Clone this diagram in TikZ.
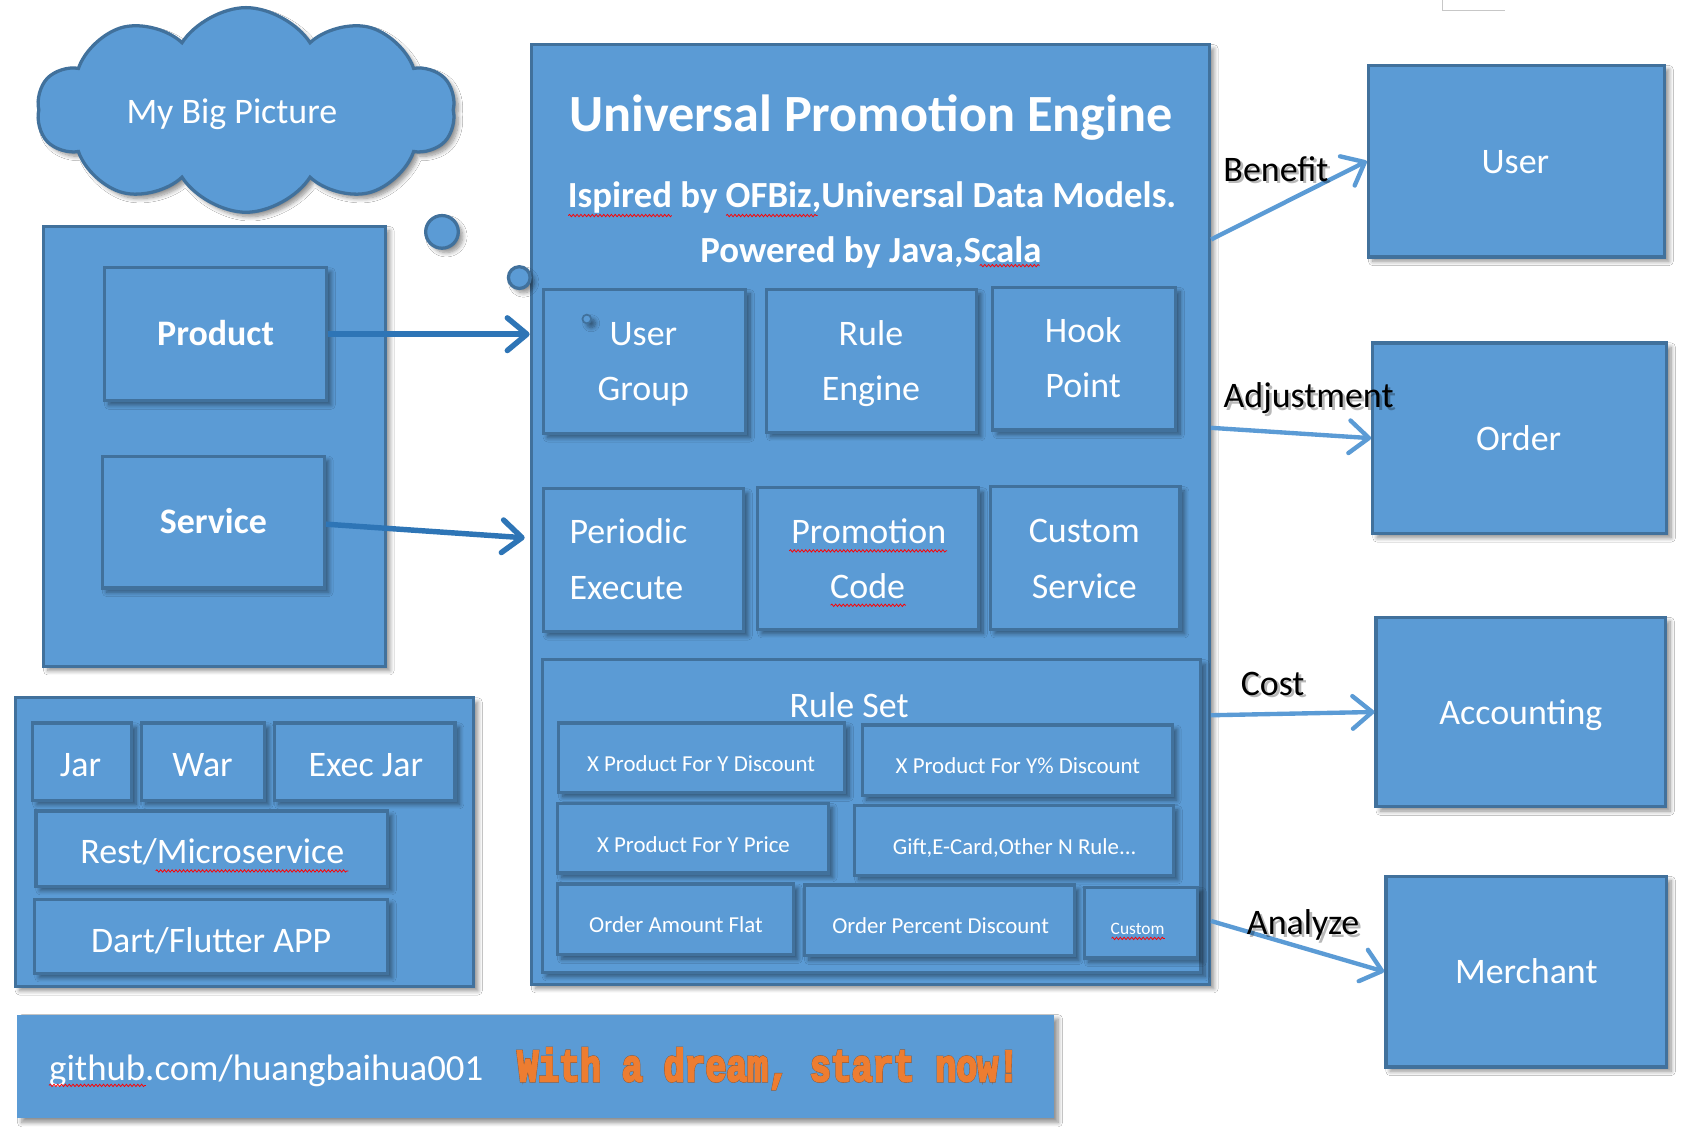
\documentclass[tikz,border=0pt]{standalone}
\usepackage{fontspec}
\setmainfont{Carlito}
\newfontfamily\dreamfont{Liberation Mono}[UprightFont={* Bold},UprightFeatures={FakeBold=4.5}]
\newfontfamily\dreamfontedge{Liberation Mono}[UprightFont={* Bold},UprightFeatures={FakeBold=6.5}]
\usetikzlibrary{shapes.symbols,arrows.meta,shadows.blur,decorations.pathmorphing,calc}
\definecolor{fillc}{HTML}{5B9BD5}
\definecolor{bordc}{HTML}{41719C}
\definecolor{arrc}{HTML}{2E75B6}
\definecolor{orng}{HTML}{ED7D31}
\definecolor{orngdark}{HTML}{8A5A3C}
\tikzset{
  shade box/.style={blur shadow={shadow xshift=4pt,shadow yshift=-4pt,shadow blur radius=4pt,shadow blur steps=8,shadow opacity=45}},
  panel/.style={draw=bordc,fill=fillc,line width=3pt,inner sep=0pt,shade box},
  cloudstyle/.style={cloud,cloud puffs=10,cloud puff arc=115,cloud ignores aspect,draw=bordc,fill=fillc,line width=3pt,minimum width=384pt,minimum height=188pt,inner sep=0pt,shade box},
  lbl/.style={inner sep=0pt,text=white,font=\fontsize{33}{40}\selectfont,text height=21pt,text depth=0pt},
  blbl/.style={lbl,font=\fontsize{33}{40}\selectfont\bfseries},
  sublbl/.style={lbl,font=\fontsize{33.8}{40}\selectfont\bfseries},
  tlbl/.style={lbl,font=\fontsize{48}{56}\selectfont\bfseries,text height=31pt},
  rlbl/.style={lbl,font=\fontsize{21}{26}\selectfont,text height=13.5pt},
  slbl/.style={lbl,font=\fontsize{16}{20}\selectfont,text height=10pt},
  elbl/.style={lbl,text=black},
  elblsh/.style={lbl,text=black,opacity=0.28},
  dreamlbl/.style={inner sep=0pt,anchor=west,text height=24pt,text depth=0pt},
  larrow/.style={arrc,line width=5pt,-{Straight Barb[length=18pt,width=30pt,round]}},
  rarrow/.style={fillc,line width=4pt,-{Straight Barb[length=18pt,width=30pt,round]}},
  squig/.style={red,line width=0.7pt,decorate,decoration={snake,amplitude=1.1pt,segment length=3.5pt}}
}
\newcommand\bluebox[6][]{\node[panel,#1,minimum width={(#5)-(#3)},minimum height={(#6)-(#4)}] (#2) at ({((#3)+(#5))/2},{((#4)+(#6))/2}) {};}
\begin{document}
\begin{tikzpicture}[x=1pt,y=-1pt]
\useasboundingbox (0,0) rectangle (1568,1046);
\fill[white] (0,0) rectangle (1568,1046);
\draw[black!22,line width=1pt] (1325,0) -- (1325,10) -- (1382,10);

% thought cloud
\node[cloudstyle] (cloud) at (226,101) {};
\node[lbl] (tcloud) at (213,103) {My Big Picture};
\node[panel,circle,minimum size=30pt] (bub1) at (406,213) {};

% left panel
\bluebox{left}{40}{208}{354}{612}
\bluebox{product}{96}{246}{300}{368}
\bluebox{service}{94}{419}{298}{540}
\node[blbl] (tproduct) at (198,307) {Product};
\node[blbl] (tservice) at (196,480) {Service};

% engine
\bluebox{engine}{488}{41}{1111}{904}
\node[panel,circle,minimum size=20pt] (bub2) at (477,255) {};
\node[tlbl] (ttitle) at (800,105) {Universal Promotion Engine};
\node[sublbl] (tsub1) at (801,180) {Ispired by OFBiz,Universal Data Models.};
\node[sublbl] (tsub2) at (800,231) {Powered by Java,Scala};

\bluebox{ug}{499}{266}{685}{398}
\bluebox{re}{704}{266}{897}{397}
\bluebox{hp}{912}{264}{1080}{395}
\node[panel,circle,line width=1.6pt,minimum size=8pt] (dot) at (539,293) {};
\node[lbl] (tug1) at (591,307) {User};
\node[lbl] (tug2) at (591,357) {Group};
\node[lbl] (tre1) at (800,307) {Rule};
\node[lbl] (tre2) at (800,357) {Engine};
\node[lbl] (thp1) at (995,304) {Hook};
\node[lbl] (thp2) at (995,355) {Point};

\bluebox{pe}{499}{449}{683}{580}
\bluebox{pc}{696}{448}{899}{578}
\bluebox{cs}{910}{447}{1084}{578}
\node[lbl,anchor=west] (tpe1) at (523,489) {Periodic};
\node[lbl,anchor=west] (tpe2) at (523,540) {Execute};
\node[lbl] (tpc1) at (798,489) {Promotion};
\node[lbl] (tpc2) at (797,539) {Code};
\node[lbl] (tcs1) at (996,488) {Custom};
\node[lbl] (tcs2) at (996,539) {Service};

% rule set
\bluebox{ruleset}{498}{606}{1103}{893}
\node[lbl] (truleset) at (780,649) {Rule Set};
\bluebox{ra}{513}{664}{776}{728}
\bluebox{rb}{792}{666}{1077}{731}
\bluebox{rc}{512}{738}{761}{802}
\bluebox{rd}{785}{740}{1078}{804}
\bluebox{rf}{512}{812}{729}{877}
\bluebox{rg}{739}{813}{987}{878}
\bluebox{rh}{996}{815}{1100}{880}
\node[rlbl] (tra) at (644,702) {X Product For Y Discount};
\node[rlbl] (trb) at (935,704) {X Product For Y\% Discount};
\node[rlbl] (trc) at (637,776) {X Product For Y Price};
\node[rlbl] (trd) at (932,778) {Gift,E-Card,Other N Rule...};
\node[rlbl] (trf) at (621,850) {Order Amount Flat};
\node[rlbl] (trg) at (864,851) {Order Percent Discount};
\node[slbl] (trh) at (1045,853) {Custom};

% deployment panel
\bluebox{deploy}{14}{641}{435}{906}
\bluebox{jar}{30}{664}{121}{735}
\bluebox{war}{130}{664}{243}{735}
\bluebox{execjar}{252}{664}{418}{735}
\bluebox{rest}{33}{745}{356}{814}
\bluebox{dart}{32}{826}{356}{894}
\node[lbl] (tjar) at (74,703) {Jar};
\node[lbl] (twar) at (186,703) {War};
\node[lbl] (texec) at (336,703) {Exec Jar};
\node[lbl] (trest) at (195,783) {Rest/Microservice};
\node[lbl] (tdart) at (194,864) {Dart/Flutter APP};

% banner
\bluebox[draw=none]{banner}{16}{932}{968}{1027}
\node[lbl,anchor=west,font=\fontsize{33.8}{40}\selectfont] (tgit) at (45,982) {github.com/huangbaihua001};
\node[dreamlbl,text=orngdark,font={\fontsize{32}{36}\dreamfontedge}] (tdreamedge) at (475,981) {\scalebox{1}[1.3]{With a dream, start now!}};
\node[dreamlbl,text=orng,font={\fontsize{32}{36}\dreamfont}] (tdream) at (475,981) {\scalebox{1}[1.3]{With a dream, start now!}};

% right boxes
\bluebox{userbox}{1257}{60}{1529}{236}
\bluebox{orderbox}{1261}{315}{1531}{490}
\bluebox{acctbox}{1264}{567}{1530}{741}
\bluebox{merchbox}{1273}{805}{1531}{980}
\node[lbl] (tuser) at (1392,149) {User};
\node[lbl] (torder) at (1395,403) {Order};
\node[lbl] (tacct) at (1397,655) {Accounting};
\node[lbl] (tmerch) at (1402,893) {Merchant};

% connectors
\coordinate (svcend) at (482,494);
\coordinate (yb) at (0,220);
\coordinate (ya) at (0,393);
\coordinate (yc) at (0,657);
\coordinate (yd) at (0,846);
\draw[larrow] (product.east) -- (product.east -| engine.west);
\draw[larrow] ([yshift=-2pt]service.east) -- (svcend);
\draw[rarrow] (engine.east |- yb) -- (userbox.west);
\draw[rarrow] (engine.east |- ya) -- (orderbox.west);
\draw[rarrow] (engine.east |- yc) -- (acctbox.west);
\draw[rarrow] (engine.east |- yd) -- (merchbox.west);

% connector labels
\node[elblsh] (sbenefit) at (1174.5,158.5) {Benefit};
\node[elbl] (lbenefit) at (1172,156) {Benefit};
\node[elblsh] (sadj) at (1204.5,366.5) {Adjustment};
\node[elbl] (ladj) at (1202,364) {Adjustment};
\node[elblsh] (scost) at (1171.5,630.5) {Cost};
\node[elbl] (lcost) at (1169,628) {Cost};
\node[elblsh] (sanal) at (1199.5,850.5) {Analyze};
\node[elbl] (lanal) at (1197,848) {Analyze};

% spell-check marks
\draw[squig] (522,198) -- (617,198);
\draw[squig] (667,198) -- (751,198);
\draw[squig] (900,244) -- (955,244);
\draw[squig] (725,506) -- (870,506);
\draw[squig] (763,556) -- (832,556);
\draw[squig] (143,800) -- (320,800);
\draw[squig] (45,997) -- (134,997);
\draw[squig] (1021,862) -- (1070,862);
\end{tikzpicture}
\end{document}
